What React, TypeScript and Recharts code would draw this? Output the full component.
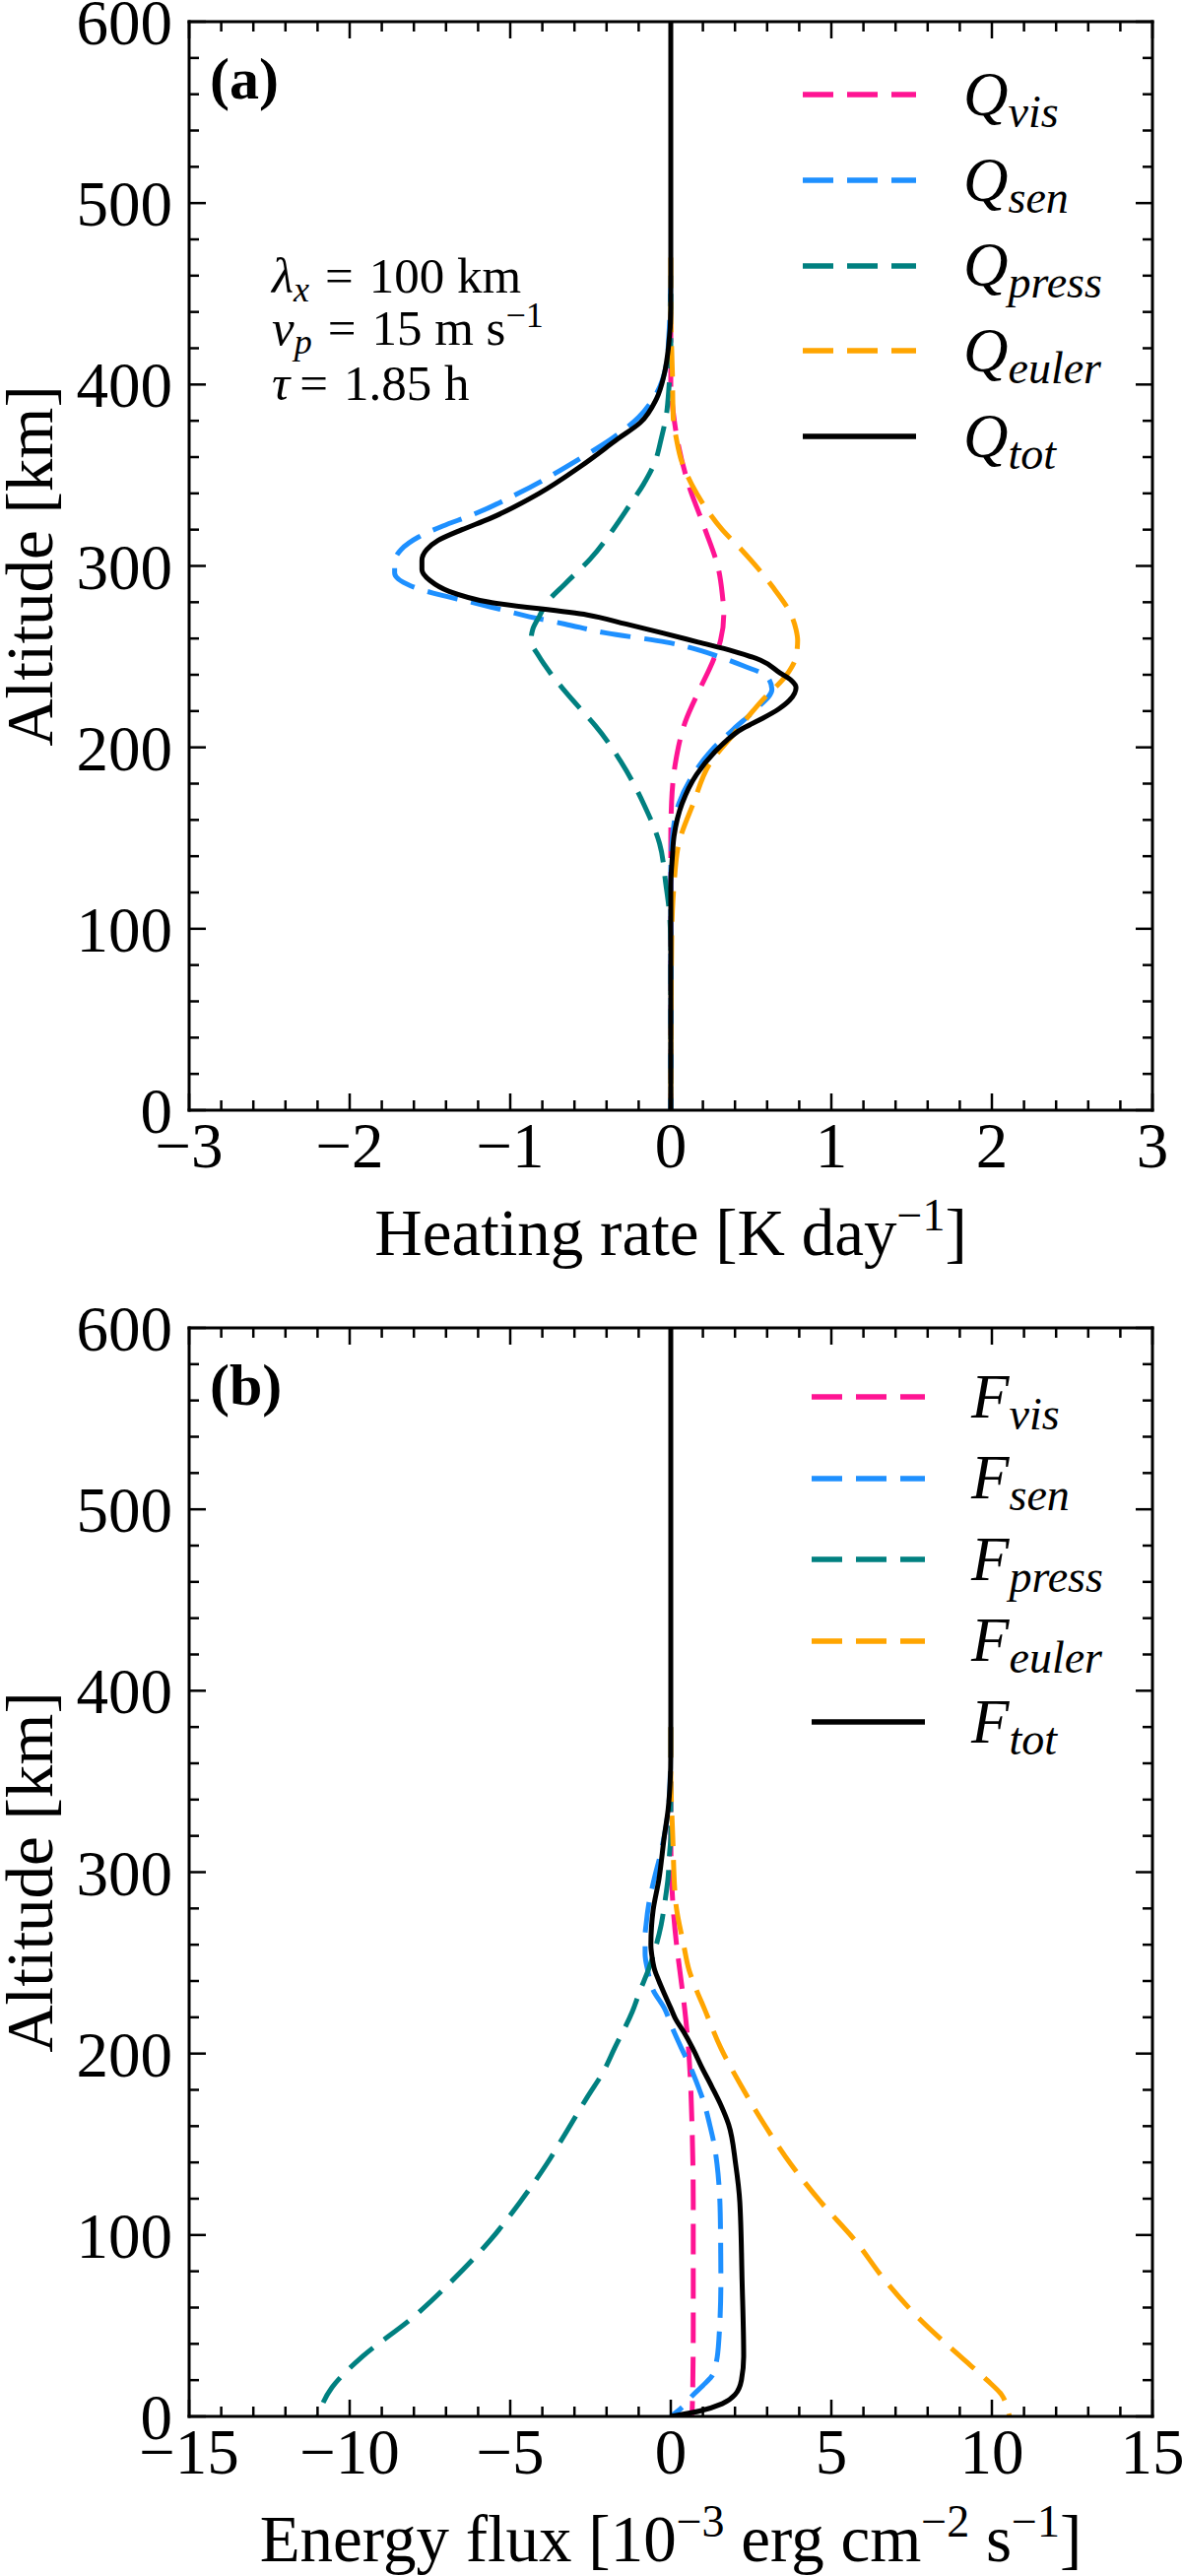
import React from 'react';
import { LineChart, Line, XAxis, YAxis, Legend, Label } from 'recharts';

const FONT = '"Liberation Serif", "Times New Roman", Times, serif';
const TICK_FONT = 65;
const TITLE_FONT = 67;
const SUP_FONT = 46;

// shared altitude axis [km]
const altTicks = [0, 100, 200, 300, 400, 500, 600];
const altMinor = [20, 40, 60, 80, 120, 140, 160, 180, 220, 240, 260, 280, 320, 340, 360, 380, 420, 440, 460, 480, 520, 540, 560, 580];

// (a) heating rate axis [K/day]
const heatTicks = [-3, -2, -1, 0, 1, 2, 3];
const heatMinor = [-2.8, -2.6, -2.4, -2.2, -1.8, -1.6, -1.4, -1.2, -0.8, -0.6, -0.4, -0.2, 0.2, 0.4, 0.6, 0.8, 1.2, 1.4, 1.6, 1.8, 2.2, 2.4, 2.6, 2.8];

// (b) energy flux axis [1e-3 erg cm^-2 s^-1]
const fluxTicks = [-15, -10, -5, 0, 5, 10, 15];
const fluxMinor = [-14, -13, -12, -11, -9, -8, -7, -6, -4, -3, -2, -1, 1, 2, 3, 4, 6, 7, 8, 9, 11, 12, 13, 14];

const names = ['vis', 'sen', 'press', 'euler', 'tot'];
const colors = ['#ff1493', '#1e90ff', '#008080', '#ffa500', '#000000'];

// ---- heating rates (a)
const altQVis = [0, 150, 170, 192, 214, 232, 245, 259, 273, 285, 297, 321, 345, 370, 385, 401, 440];
const qVis = [0, 0, 0.005, 0.03, 0.09, 0.18, 0.25, 0.31, 0.33, 0.32, 0.3, 0.21, 0.11, 0.04, 0.015, 0, 0];

const altQSen = [0, 130, 150, 169, 185, 198, 210, 221, 232, 239, 245, 250, 255, 258, 263, 268, 272, 276, 280, 285, 289, 296, 302, 309, 316, 322, 328, 340, 360, 370, 382, 395, 410, 430, 460];
const qSen = [0, 0, 0.01, 0.05, 0.14, 0.25, 0.39, 0.53, 0.63, 0.6, 0.45, 0.3, 0.12, -0.03, -0.4, -0.66, -0.88, -1.06, -1.24, -1.48, -1.62, -1.72, -1.72, -1.68, -1.57, -1.42, -1.24, -0.95, -0.55, -0.37, -0.2, -0.09, -0.03, -0.01, 0];

const altQPress = [0, 90, 110, 124, 147, 169, 192, 212, 218, 230, 241, 250, 259, 265, 272, 280, 290, 304, 320, 333, 345, 357, 370, 382, 400, 413, 450];
const qPress = [0, 0, -0.01, -0.03, -0.07, -0.17, -0.31, -0.47, -0.53, -0.65, -0.75, -0.82, -0.87, -0.86, -0.82, -0.77, -0.66, -0.5, -0.36, -0.26, -0.17, -0.1, -0.06, -0.03, -0.01, 0, 0];

const altQEuler = [0, 90, 110, 124, 147, 169, 192, 207, 225, 241, 250, 259, 265, 273, 289, 309, 320, 333, 345, 357, 370, 382, 406, 442, 470];
const qEuler = [0, 0.005, 0.01, 0.02, 0.05, 0.14, 0.25, 0.39, 0.56, 0.73, 0.78, 0.79, 0.78, 0.75, 0.63, 0.44, 0.32, 0.21, 0.13, 0.07, 0.035, 0.015, 0.01, 0, 0];

const altQTot = [0, 110, 124, 140, 151, 169, 185, 198, 204, 210, 215, 221, 226, 233, 237, 241, 248, 253, 258, 263, 268, 273, 280, 286, 292, 298, 303, 309, 314, 320, 326, 340, 355, 370, 379, 392, 406, 420, 442, 600];
const qTot = [0, 0, 0, 0.01, 0.02, 0.07, 0.16, 0.28, 0.35, 0.44, 0.55, 0.67, 0.74, 0.78, 0.75, 0.68, 0.56, 0.39, 0.17, -0.05, -0.28, -0.52, -1.13, -1.38, -1.5, -1.55, -1.55, -1.52, -1.45, -1.3, -1.13, -0.82, -0.56, -0.33, -0.19, -0.09, -0.04, -0.015, 0, 0];

// ---- energy fluxes (b)
const altFVis = [0, 12, 50, 118, 161, 182, 203, 225, 246, 260, 284, 300, 320, 350];
const fVis = [0.66, 0.68, 0.7, 0.7, 0.66, 0.62, 0.55, 0.43, 0.28, 0.18, 0.06, 0.02, 0, 0];

const altFSen = [0, 5, 12, 17, 22, 30, 43, 75, 100, 118, 139, 150, 161, 172, 182, 193, 203, 214, 225, 235, 246, 255, 265, 271, 283, 296, 310, 325, 340, 360, 380];
const fSen = [0, 0.35, 0.7, 1.0, 1.27, 1.42, 1.5, 1.56, 1.55, 1.53, 1.44, 1.35, 1.21, 1.05, 0.85, 0.6, 0.33, 0.05, -0.2, -0.55, -0.72, -0.8, -0.8, -0.77, -0.68, -0.52, -0.32, -0.15, -0.05, -0.01, 0];

const altFPress = [0, 16, 33, 54, 75, 97, 118, 139, 156, 176, 190, 203, 223, 235, 246, 260, 271, 284, 296, 310, 320, 350];
const fPress = [-11.0, -10.55, -9.6, -8.07, -6.8, -5.63, -4.7, -3.87, -3.28, -2.6, -2.1, -1.75, -1.2, -0.95, -0.7, -0.45, -0.3, -0.18, -0.09, -0.04, 0, 0];

const altFEuler = [0, 3, 12, 20, 33, 54, 75, 97, 118, 139, 161, 182, 203, 225, 235, 246, 260, 284, 320, 356, 380];
const fEuler = [10.55, 10.5, 10.3, 9.85, 9.02, 7.73, 6.67, 5.74, 4.68, 3.74, 2.91, 2.2, 1.56, 1.04, 0.8, 0.57, 0.4, 0.15, 0.06, 0, 0];

const altFTot = [0, 3, 7, 12, 20, 33, 75, 118, 139, 161, 172, 182, 193, 203, 212, 219, 225, 233, 240, 246, 253, 260, 270, 279, 296, 320, 335, 350, 365, 600];
const fTot = [0, 0.9, 1.6, 2.0, 2.2, 2.27, 2.22, 2.15, 2.02, 1.8, 1.55, 1.27, 0.95, 0.68, 0.4, 0.15, 0, -0.2, -0.37, -0.5, -0.58, -0.62, -0.6, -0.55, -0.37, -0.2, -0.08, -0.02, 0, 0];

// top-down order so monotoneY gets increasing pixel y
const pts = (alts: number[], vals: number[]) =>
  alts.map((alt, i) => ({ alt, v: vals[i] })).reverse();

const heatSeries = [
  pts(altQVis, qVis),
  pts(altQSen, qSen),
  pts(altQPress, qPress),
  pts(altQEuler, qEuler),
  pts(altQTot, qTot),
];
const fluxSeries = [
  pts(altFVis, fVis),
  pts(altFSen, fSen),
  pts(altFPress, fPress),
  pts(altFEuler, fEuler),
  pts(altFTot, fTot),
];

const minus = (v: number) => String(v).replace('-', '\u2212');
const noLabel = () => <g />;

function LegendBox({ payload, letter, rowH, gap }: any) {
  const items = [...(payload || [])].sort(
    (a: any, b: any) => names.indexOf(a.value) - names.indexOf(b.value)
  );
  return (
    <div style={{ fontFamily: FONT, color: '#000' }}>
      {items.map((e: any) => (
        <div key={e.value} style={{ display: 'flex', alignItems: 'center', height: rowH }}>
          <svg width={115} height={12} style={{ display: 'block', flexShrink: 0 }}>
            <line
              x1={0}
              y1={6}
              x2={115}
              y2={6}
              stroke={e.color}
              strokeWidth={5.5}
              strokeDasharray={e.payload && e.payload.strokeDasharray}
            />
          </svg>
          <span style={{ marginLeft: gap, fontStyle: 'italic', fontSize: 63, lineHeight: 1, whiteSpace: 'nowrap' }}>
            {letter}
            <span style={{ fontSize: 46, position: 'relative', top: 12 }}>{e.value}</span>
          </span>
        </div>
      ))}
    </div>
  );
}

const altTitle = (vb: any) => {
  const cy = vb.y + vb.height / 2;
  return (
    <text
      x={53}
      y={cy}
      transform={`rotate(-90 53 ${cy})`}
      textAnchor="middle"
      fontFamily={FONT}
      fontSize={TITLE_FONT}
      fill="#000"
    >
      Altitude [km]
    </text>
  );
};

const heatTitle = (vb: any) => (
  <text x={vb.x + vb.width / 2} y={vb.y + 147} textAnchor="middle" fontFamily={FONT} fontSize={TITLE_FONT} fill="#000">
    Heating rate [K day<tspan dy={-25} fontSize={SUP_FONT}>{'\u22121'}</tspan><tspan dy={25}>]</tspan>
  </text>
);

const fluxTitle = (vb: any) => (
  <text x={vb.x + vb.width / 2} y={vb.y + 147} textAnchor="middle" fontFamily={FONT} fontSize={TITLE_FONT} fill="#000">
    Energy flux [10<tspan dy={-25} fontSize={SUP_FONT}>{'\u22123'}</tspan><tspan dy={25}> erg cm</tspan><tspan dy={-25} fontSize={SUP_FONT}>{'\u22122'}</tspan><tspan dy={25}> s</tspan><tspan dy={-25} fontSize={SUP_FONT}>{'\u22121'}</tspan><tspan dy={25}>]</tspan>
  </text>
);

const PLOT_TOP = 22;
const PLOT_H = 1105;
const axisLine = { stroke: '#000', strokeWidth: 3, strokeLinecap: 'square' as const };
const tickLine = { stroke: '#000', strokeWidth: 2.5 };

function Panel({ top, height, data, domain, ticks, minor, letter, tag, title, legendLeft, legendTop, rowH, gap, children }: any) {
  const xCommon = { type: 'number' as const, domain, allowDataOverflow: true, interval: 0 as const };
  const yCommon = { type: 'number' as const, dataKey: 'alt', domain: [0, 600], allowDataOverflow: true, interval: 0 as const, reversed: true };
  return (
    <div style={{ position: 'absolute', left: 0, top }}>
      <LineChart
        width={1200}
        height={height}
        layout="vertical"
        margin={{ top: PLOT_TOP, right: 30, bottom: height - PLOT_TOP - PLOT_H - 1, left: 191 }}
      >
        <XAxis
          xAxisId="x"
          {...xCommon}
          ticks={ticks}
          height={1}
          tickLine={false}
          tickSize={0}
          tickMargin={12}
          axisLine={axisLine}
          tick={{ fontSize: TICK_FONT, fill: '#000', fontFamily: FONT }}
          tickFormatter={minus}
        >
          <Label content={(p: any) => title(p.viewBox)} />
        </XAxis>
        <XAxis xAxisId="bMaj" {...xCommon} ticks={ticks} height={1} mirror tick={noLabel} axisLine={false} tickLine={tickLine} tickSize={17} />
        <XAxis xAxisId="bMin" {...xCommon} ticks={minor} height={1} mirror tick={noLabel} axisLine={false} tickLine={tickLine} tickSize={9} />
        <XAxis xAxisId="tMaj" {...xCommon} ticks={ticks} height={1} orientation="top" mirror tick={noLabel} axisLine={axisLine} tickLine={tickLine} tickSize={17} />
        <XAxis xAxisId="tMin" {...xCommon} ticks={minor} height={1} orientation="top" mirror tick={noLabel} axisLine={false} tickLine={tickLine} tickSize={9} />

        <YAxis
          yAxisId="y"
          {...yCommon}
          ticks={altTicks}
          width={1}
          tickLine={false}
          tickSize={0}
          tickMargin={17}
          axisLine={axisLine}
          tick={{ fontSize: TICK_FONT, fill: '#000', fontFamily: FONT }}
        >
          <Label content={(p: any) => altTitle(p.viewBox)} />
        </YAxis>
        <YAxis yAxisId="lMaj" {...yCommon} ticks={altTicks} width={1} mirror tick={noLabel} axisLine={false} tickLine={tickLine} tickSize={17} />
        <YAxis yAxisId="lMin" {...yCommon} ticks={altMinor} width={1} mirror tick={noLabel} axisLine={false} tickLine={tickLine} tickSize={9} />
        <YAxis yAxisId="rMaj" {...yCommon} ticks={altTicks} width={1} orientation="right" mirror tick={noLabel} axisLine={axisLine} tickLine={tickLine} tickSize={17} />
        <YAxis yAxisId="rMin" {...yCommon} ticks={altMinor} width={1} orientation="right" mirror tick={noLabel} axisLine={false} tickLine={tickLine} tickSize={9} />

        {data.map((d: any, i: number) => (
          <Line
            key={names[i]}
            xAxisId="x"
            yAxisId="y"
            data={d}
            dataKey="v"
            name={names[i]}
            type="monotone"
            stroke={colors[i]}
            strokeWidth={5}
            strokeDasharray={i === 4 ? undefined : '31 14'}
            dot={false}
            activeDot={false}
            isAnimationActive={false}
          />
        ))}

        <Legend
          layout="vertical"
          align="center"
          verticalAlign="middle"
          wrapperStyle={{ left: legendLeft, top: legendTop, width: 360 }}
          content={(p: any) => <LegendBox payload={p.payload} letter={letter} rowH={rowH} gap={gap} />}
        />

        <text x={213} y={100} fontFamily={FONT} fontSize={60} fontWeight="bold" fill="#000">
          {tag}
        </text>
        {children}
      </LineChart>
    </div>
  );
}

export default function App() {
  return (
    <div style={{ position: 'absolute', left: 0, top: 0, width: 1200, height: 2615, background: '#fff' }}>
      <Panel
        top={0}
        height={1326}
        data={heatSeries}
        domain={[-3, 3]}
        ticks={heatTicks}
        minor={heatMinor}
        letter="Q"
        tag="(a)"
        title={heatTitle}
        legendLeft={815}
        legendTop={53}
        rowH={86.7}
        gap={48}
      >
        <text fontFamily={FONT} fontSize={51} fill="#000">
          <tspan x={276} y={297} fontStyle="italic">λ</tspan>
          <tspan fontStyle="italic" fontSize={36} dy={9}>x</tspan>
          <tspan dy={-9} dx={16}>=</tspan>
          <tspan dx={16}>100 km</tspan>
        </text>
        <text fontFamily={FONT} fontSize={51} fill="#000">
          <tspan x={276} y={350} fontStyle="italic">v</tspan>
          <tspan fontStyle="italic" fontSize={36} dy={9}>p</tspan>
          <tspan dy={-9} dx={16}>=</tspan>
          <tspan dx={16}>15 m s</tspan>
          <tspan dy={-18} fontSize={36}>{'\u22121'}</tspan>
        </text>
        <text fontFamily={FONT} fontSize={51} fill="#000">
          <tspan x={276} y={406} fontStyle="italic">τ</tspan>
          <tspan dx={10}>=</tspan>
          <tspan dx={16}>1.85 h</tspan>
        </text>
      </Panel>
      <Panel
        top={1326}
        height={1289}
        data={fluxSeries}
        domain={[-15, 15]}
        ticks={fluxTicks}
        minor={fluxMinor}
        letter="F"
        tag="(b)"
        title={fluxTitle}
        legendLeft={824}
        legendTop={51}
        rowH={82.5}
        gap={47}
      />
    </div>
  );
}
